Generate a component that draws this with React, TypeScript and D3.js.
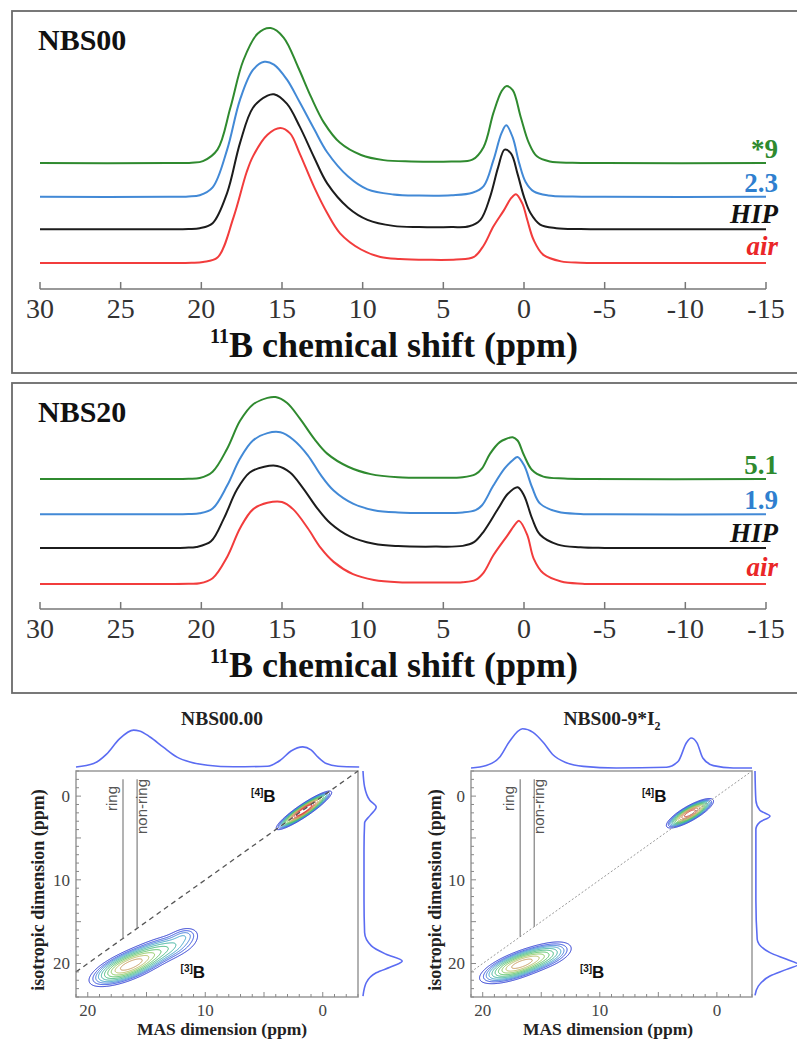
import React, { useMemo } from "react";
import * as d3 from "d3";

type Pt = [number, number];

// ---------- 1D 11B MAS NMR spectra ----------
const shiftTicks = [30, 25, 20, 15, 10, 5, 0, -5, -10, -15];

const nbs00Air: Pt[] = [[30,0],[22,0],[20.6,0.002],[19.9,0.008],[19.0,0.04],[18.0,0.34],[17.2,0.67],[16.8,0.79],[15.9,0.95],[15.1,1.0],[14.5,0.96],[13.9,0.81],[13.0,0.56],[12.2,0.37],[11.4,0.22],[10.1,0.10],[8.9,0.045],[7.7,0.03],[6,0.024],[4.2,0.026],[3.1,0.045],[2.5,0.13],[1.9,0.27],[1.25,0.39],[0.8,0.48],[0.5,0.51],[0.1,0.44],[-0.2,0.32],[-0.6,0.17],[-1.2,0.06],[-2.3,0.012],[-3.5,0.002],[-5,0],[-15,0]];
const nbs00Hip: Pt[] = [[30,0],[22,0],[20.8,0.002],[20.1,0.008],[19.3,0.045],[18.4,0.27],[17.6,0.64],[16.8,0.90],[15.9,0.99],[15.5,1.0],[14.7,0.93],[13.9,0.76],[13.0,0.53],[12.2,0.34],[10.9,0.16],[9.7,0.07],[8.1,0.025],[6.5,0.016],[4.5,0.016],[3.4,0.022],[2.7,0.07],[2.1,0.24],[1.6,0.46],[1.2,0.59],[0.8,0.56],[0.4,0.41],[0.0,0.24],[-0.4,0.12],[-1.0,0.035],[-2.0,0.008],[-3.5,0.002],[-5,0],[-15,0]];
const nbs00Dose23: Pt[] = [[30,0],[22,0],[20.8,0.003],[20.1,0.012],[19.3,0.07],[18.4,0.35],[17.6,0.72],[16.8,0.94],[16.1,1.0],[15.5,0.98],[14.7,0.87],[13.9,0.70],[13.0,0.50],[12.2,0.33],[10.9,0.15],[9.7,0.055],[8.1,0.018],[6.5,0.01],[4.5,0.012],[3.2,0.03],[2.5,0.08],[1.9,0.27],[1.4,0.47],[1.1,0.53],[0.7,0.44],[0.3,0.25],[-0.1,0.11],[-0.6,0.04],[-1.5,0.01],[-3,0.002],[-5,0],[-15,0]];
const nbs00Dose9: Pt[] = [[30,0],[22,0],[20.6,0.003],[19.9,0.015],[19.0,0.10],[18.2,0.41],[17.4,0.76],[16.5,0.96],[15.7,1.0],[14.9,0.93],[14.0,0.71],[13.2,0.49],[12.4,0.30],[11.4,0.15],[10.1,0.06],[8.7,0.022],[7,0.012],[4.5,0.012],[3.2,0.025],[2.5,0.12],[1.9,0.37],[1.4,0.53],[1.1,0.57],[0.7,0.54],[0.2,0.34],[-0.3,0.15],[-0.8,0.05],[-1.6,0.012],[-3,0.002],[-5,0],[-15,0]];

const nbs20Air: Pt[] = [[30,0],[22,0],[20.8,0.002],[20.1,0.008],[19.3,0.07],[18.4,0.33],[17.6,0.68],[16.8,0.91],[15.9,0.99],[15.0,1.0],[14.3,0.91],[13.4,0.68],[12.6,0.44],[11.8,0.27],[10.6,0.12],[9.3,0.05],[7.8,0.022],[5.5,0.018],[3.8,0.022],[3.0,0.05],[2.5,0.14],[1.9,0.35],[1.0,0.60],[0.5,0.74],[0.3,0.77],[-0.2,0.60],[-0.6,0.31],[-1.2,0.13],[-2.3,0.03],[-3.6,0.004],[-5,0],[-15,0]];
const nbs20Hip: Pt[] = [[30,0],[22,0],[21.0,0.003],[20.3,0.012],[19.4,0.08],[18.6,0.36],[17.8,0.71],[17.0,0.92],[16.1,0.99],[15.3,1.0],[14.5,0.92],[13.7,0.73],[12.8,0.48],[12.0,0.30],[10.8,0.14],[9.3,0.05],[7.8,0.022],[5.5,0.016],[3.8,0.025],[3.1,0.07],[2.5,0.20],[1.6,0.48],[1.0,0.66],[0.4,0.74],[0.0,0.64],[-0.5,0.36],[-1.0,0.16],[-2.1,0.04],[-3.5,0.008],[-5,0],[-15,0]];
const nbs20Dose19: Pt[] = [[30,0],[22,0],[20.8,0.003],[20.1,0.012],[19.3,0.07],[18.4,0.35],[17.6,0.68],[16.8,0.90],[15.9,0.99],[15.1,1.0],[14.3,0.91],[13.4,0.72],[12.6,0.48],[11.8,0.29],[10.6,0.13],[9.3,0.05],[7.8,0.022],[5.5,0.016],[3.8,0.022],[3.0,0.05],[2.6,0.11],[1.9,0.35],[1.2,0.56],[0.7,0.66],[0.4,0.70],[0.0,0.60],[-0.5,0.33],[-1.0,0.13],[-2.1,0.03],[-3.5,0.004],[-5,0],[-15,0]];
const nbs20Dose51: Pt[] = [[30,0],[22,0],[20.8,0.003],[20.1,0.012],[19.3,0.09],[18.4,0.37],[17.6,0.71],[16.8,0.91],[15.9,0.99],[15.4,1.0],[14.7,0.93],[13.9,0.74],[13.0,0.49],[12.2,0.31],[10.9,0.15],[9.5,0.06],[7.8,0.022],[5.5,0.016],[3.8,0.022],[3.0,0.06],[2.6,0.13],[2.1,0.31],[1.5,0.45],[1.1,0.49],[0.7,0.51],[0.4,0.47],[0.0,0.29],[-0.5,0.11],[-1.2,0.03],[-2.5,0.006],[-4,0],[-15,0]];

const nbs00Labels = ["air", "HIP", "2.3", "*9"];
const nbs20Labels = ["air", "HIP", "1.9", "5.1"];
const italicLabels = [true, true, false, false];
const nbs00Offsets = [0, 0.25, 0.49, 0.74];
const nbs20Offsets = [0, 0.44, 0.85, 1.28];
const traceColors = ["#f23c3c", "#1c1c1c", "#4289d6", "#2f8a2f"];
const labelColors = ["#ea2628", "#111111", "#2f7fcf", "#2e8a2e"];

// ---------- 2D MQMAS ----------
const masTicks = [20, 10, 0];
const isoTicks = [0, 10, 20];

type Comp = { mas: number; iso: number; sm: number; si: number; rho: number; amp: number };
const nbs00Peaks: Comp[] = [
  { mas: 16.4, iso: 20.2, sm: 1.5, si: 1.1, rho: 0.7, amp: 0.6 },
  { mas: 13.4, iso: 18.2, sm: 1.5, si: 1.0, rho: 0.55, amp: 0.16 },
  { mas: 11.8, iso: 16.6, sm: 0.7, si: 0.6, rho: 0.3, amp: 0.07 },
  { mas: 1.6, iso: 1.7, sm: 0.9, si: 0.88, rho: 0.92, amp: 1.25 },
];
const nbs009Peaks: Comp[] = [
  { mas: 16.8, iso: 20.1, sm: 1.5, si: 1.0, rho: 0.7, amp: 0.58 },
  { mas: 14.4, iso: 19.0, sm: 1.2, si: 0.9, rho: 0.5, amp: 0.12 },
  { mas: 2.3, iso: 2.05, sm: 0.8, si: 0.7, rho: 0.82, amp: 0.95 },
];
const contourLevels = [0.04, 0.065, 0.09, 0.12, 0.16, 0.21, 0.27, 0.34, 0.42, 0.52, 0.65, 0.8, 0.95];
const contourColors = ["#1f2fd0", "#2a4ae0", "#3a78d8", "#38a0c8", "#36b09c", "#3cb878", "#50c060", "#86c858", "#b8bc60", "#c89a58", "#cc7446", "#d24a34", "#e01616"];

const nbs00MasProj: Pt[] = [[21.0,0],[19.5,0.09],[18.4,0.34],[17.3,0.74],[16.1,0.97],[15.6,0.95],[14.7,0.79],[13.6,0.53],[12.4,0.26],[11.3,0.13],[9.8,0.045],[7.6,0.005],[4.7,0.02],[3.6,0.18],[2.7,0.42],[1.7,0.53],[1.0,0.45],[0.4,0.26],[-0.3,0.09],[-1.3,0.02],[-3.1,0]];
const nbs00IsoProj: Pt[] = [[-3,0],[-1.1,0.04],[0.5,0.17],[1.3,0.33],[2.3,0.18],[3.2,0.04],[6.4,0.025],[12.4,0.025],[16.3,0.04],[17.9,0.21],[18.9,0.58],[19.7,0.98],[20.3,0.75],[21.1,0.33],[22.3,0.08],[23.9,0]];
const nbs009MasProj: Pt[] = [[21.0,0],[19.7,0.06],[18.5,0.29],[17.7,0.67],[16.6,0.98],[15.7,0.89],[14.8,0.63],[14.0,0.33],[12.8,0.125],[11.4,0.04],[8.6,0],[4.3,0.02],[3.3,0.17],[2.6,0.63],[2.2,0.75],[1.7,0.63],[1.2,0.25],[0.3,0.06],[-1.4,0],[-3,0]];
const nbs009IsoProj: Pt[] = [[-3,0],[0.5,0.02],[1.7,0.11],[2.4,0.34],[3.1,0.11],[4.0,0.02],[12.4,0.02],[17.1,0.05],[18.7,0.34],[19.5,0.72],[20.1,0.98],[20.7,0.72],[21.5,0.34],[22.7,0.075],[23.8,0]];

const SERIF = "'Liberation Serif', 'Times New Roman', serif";
const SANS = "'Liberation Sans', Arial, sans-serif";

function Spectrum1D(props: {
  top: number; bottom: number; base: number; unit: number; axisY: number;
  name: string; series: Pt[][]; offsets: number[]; labels: string[];
}) {
  const { top, bottom, base, unit, axisY, name, series, offsets, labels } = props;
  const x = d3.scaleLinear().domain([30, -15]).range([40, 766]);
  const y = d3.scaleLinear().domain([0, 1]).range([base, base - unit]);
  return (
    <g>
      <rect x={12} y={top} width={800} height={bottom - top} fill="none" stroke="#6a6a6a" strokeWidth={1.8} />
      <text x={38} y={top + 39} fontFamily={SERIF} fontWeight="bold" fontSize={30} fill="#111">{name}</text>
      {series.map((s, k) => {
        const line = d3.line<Pt>().x(d => x(d[0])).y(d => y(d[1] + offsets[k])).curve(d3.curveCatmullRom.alpha(0.5));
        return <path key={k} d={line(s) || ""} fill="none" stroke={traceColors[k]} strokeWidth={2} />;
      })}
      {labels.map((l, k) => (
        <text key={l} x={778} y={y(offsets[k]) - (k === 0 ? 8 : k === 1 ? 6 : 5)} textAnchor="end" fontFamily={SERIF}
          fontWeight="bold" fontStyle={italicLabels[k] ? "italic" : "normal"} fontSize={27} fill={labelColors[k]}>{l}</text>
      ))}
      <line x1={x(30)} x2={x(-15)} y1={axisY} y2={axisY} stroke="#777" strokeWidth={1.5} />
      {shiftTicks.map(t => (
        <g key={t}>
          <line x1={x(t)} x2={x(t)} y1={axisY} y2={axisY - 7} stroke="#777" strokeWidth={1.5} />
          <text x={x(t)} y={axisY + 29} textAnchor="middle" fontFamily={SERIF} fontSize={28} fill="#333">{t}</text>
        </g>
      ))}
      <text x={394} y={axisY + 68} textAnchor="middle" fontFamily={SERIF} fontWeight="bold" fill="#111">
        <tspan fontSize={20} dy={-14}>11</tspan>
        <tspan fontSize={36} dy={14}>B chemical shift (ppm)</tspan>
      </text>
    </g>
  );
}

const STEP = 0.05;
const MAS0 = 21, MAS1 = -3, ISO0 = -3, ISO1 = 24;

function Mqmas(props: {
  x0: number; x1: number; title: React.ReactNode; titleX: number; peaks: Comp[];
  masProj: Pt[]; isoProj: Pt[]; topBase: number; rightBase: number; topScale: number; rightScale: number;
  ring: number[]; dashed: boolean; masLabelX: number; isoLabelX: number;
  lab4: Pt; lab3: Pt;
}) {
  const { x0, x1, title, titleX, peaks, masProj, isoProj, topBase, rightBase, topScale, rightScale, ring, dashed, masLabelX, isoLabelX, lab4, lab3 } = props;
  const yTop = 771, yBot = 997;
  const xs = d3.scaleLinear().domain([MAS0, MAS1]).range([x0, x1]);
  const ys = d3.scaleLinear().domain([ISO0, ISO1]).range([yTop, yBot]);

  const contours = useMemo(() => {
    const nx = Math.round((MAS0 - MAS1) / STEP);
    const ny = Math.round((ISO1 - ISO0) / STEP);
    const vals = new Float64Array(nx * ny);
    for (let j = 0; j < ny; j++) {
      const iso = ISO0 + (j + 0.5) * STEP;
      for (let i = 0; i < nx; i++) {
        const mas = MAS0 - (i + 0.5) * STEP;
        let v = 0;
        for (const c of peaks) {
          const dx = (mas - c.mas) / c.sm, dy = (iso - c.iso) / c.si;
          const q = (dx * dx - 2 * c.rho * dx * dy + dy * dy) / (1 - c.rho * c.rho);
          v += c.amp * Math.exp(-q / 2);
        }
        vals[j * nx + i] = v;
      }
    }
    const gen = d3.contours().size([nx, ny]).thresholds(contourLevels);
    return gen(Array.from(vals));
  }, [peaks]);

  const proj = d3.geoTransform({
    point: function (this: any, gx: number, gy: number) {
      this.stream.point(xs(MAS0 - gx * STEP), ys(ISO0 + gy * STEP));
    },
  });
  const geo = d3.geoPath(proj as any);

  const topLine = d3.line<Pt>().x(d => xs(d[0])).y(d => topBase - d[1] * topScale).curve(d3.curveMonotoneX);
  const rightLine = d3.line<Pt>().x(d => rightBase + d[1] * rightScale).y(d => ys(d[0])).curve(d3.curveMonotoneY);

  const masMinor = d3.range(-3, 22);
  const isoMinor = d3.range(-3, 25);

  return (
    <g>
      <text x={titleX} y={725} textAnchor="middle" fontFamily={SERIF} fontWeight="bold" fontSize={19.5} fill="#222">{title}</text>
      <path d={topLine(masProj) || ""} fill="none" stroke="#5b6cf2" strokeWidth={1.6} />
      <path d={rightLine(isoProj) || ""} fill="none" stroke="#5b6cf2" strokeWidth={1.6} />
      <rect x={x0} y={yTop} width={x1 - x0} height={yBot - yTop} fill="#fff" stroke="#999" strokeWidth={1.5} />
      {contours.map((c, k) => (
        <path key={k} d={geo(c as any) || ""} fill="none" stroke={contourColors[contourLevels.indexOf(c.value)]} strokeWidth={1} />
      ))}
      <line x1={xs(MAS0)} y1={ys(MAS0)} x2={xs(MAS1)} y2={ys(MAS1)} stroke={dashed ? "#555" : "#999"}
        strokeWidth={dashed ? 1.3 : 1} strokeDasharray={dashed ? "5,4" : "2,2"} />
      {ring.map((r, k) => (
        <line key={k} x1={xs(r)} x2={xs(r)} y1={ys(-2)} y2={ys(r)} stroke="#808080" strokeWidth={1.2} />
      ))}
      <text transform={`translate(${xs(ring[0]) - 6},${786}) rotate(-90)`} textAnchor="end" fontFamily={SANS} fontSize={15} fill="#555">ring</text>
      <text transform={`translate(${xs(ring[1]) + 10},${779}) rotate(-90)`} textAnchor="end" fontFamily={SANS} fontSize={15} fill="#555">non-ring</text>
      <text x={xs(lab4[0])} y={ys(lab4[1])} fontFamily={SANS} fontWeight="bold" fill="#111">
        <tspan fontSize={10} dy={-6}>[4]</tspan><tspan fontSize={17} dy={6}>B</tspan>
      </text>
      <text x={xs(lab3[0])} y={ys(lab3[1])} fontFamily={SANS} fontWeight="bold" fill="#111">
        <tspan fontSize={10} dy={-6}>[3]</tspan><tspan fontSize={17} dy={6}>B</tspan>
      </text>
      {masMinor.map(v => (
        <line key={"m" + v} x1={xs(v)} x2={xs(v)} y1={yBot} y2={yBot - (v % 5 === 0 ? 5 : 3)} stroke="#888" strokeWidth={1} />
      ))}
      {isoMinor.map(v => (
        <line key={"i" + v} x1={x0} x2={x0 + (v % 5 === 0 ? 5 : 3)} y1={ys(v)} y2={ys(v)} stroke="#888" strokeWidth={1} />
      ))}
      {masTicks.map(t => (
        <text key={t} x={xs(t)} y={1016} textAnchor="middle" fontFamily={SERIF} fontSize={17} fill="#444">{t}</text>
      ))}
      {isoTicks.map(t => (
        <text key={t} x={x0 - 6} y={ys(t)} dy="0.35em" textAnchor="end" fontFamily={SERIF} fontSize={17} fill="#444">{t}</text>
      ))}
      <text x={masLabelX} y={1035} textAnchor="middle" fontFamily={SERIF} fontWeight="bold" fontSize={17.5} fill="#222">MAS dimension (ppm)</text>
      <text transform={`translate(${isoLabelX},890) rotate(-90)`} textAnchor="middle" fontFamily={SERIF} fontWeight="bold" fontSize={18} fill="#222">isotropic dimension (ppm)</text>
    </g>
  );
}

export default function App() {
  return (
    <svg width={797} height={1040} viewBox="0 0 797 1040" style={{ position: "absolute", left: 0, top: 0, background: "#fff" }}>
      <rect x={0} y={0} width={797} height={1040} fill="#fff" />
      <Spectrum1D top={11} bottom={373} base={263} unit={135} axisY={289} name="NBS00"
        series={[nbs00Air, nbs00Hip, nbs00Dose23, nbs00Dose9]} offsets={nbs00Offsets} labels={nbs00Labels} />
      <Spectrum1D top={383} bottom={693} base={584} unit={82} axisY={609} name="NBS20"
        series={[nbs20Air, nbs20Hip, nbs20Dose19, nbs20Dose51]} offsets={nbs20Offsets} labels={nbs20Labels} />
      <Mqmas x0={76} x1={358} title="NBS00.00" titleX={222} peaks={nbs00Peaks}
        masProj={nbs00MasProj} isoProj={nbs00IsoProj} topBase={767} rightBase={363} topScale={38} rightScale={40}
        ring={[17.0, 15.8]} dashed={true} masLabelX={222} isoLabelX={44} lab4={[6.1, 0.7]} lab3={[12.1, 21.7]} />
      <Mqmas x0={471} x1={752} title={<><tspan>NBS00-9*I</tspan><tspan fontSize={12} dy={5}>2</tspan></>} titleX={612} peaks={nbs009Peaks}
        masProj={nbs009MasProj} isoProj={nbs009IsoProj} topBase={768} rightBase={755} topScale={40} rightScale={44}
        ring={[16.8, 15.6]} dashed={false} masLabelX={608} isoLabelX={441} lab4={[6.4, 0.7]} lab3={[11.7, 21.7]} />
    </svg>
  );
}
